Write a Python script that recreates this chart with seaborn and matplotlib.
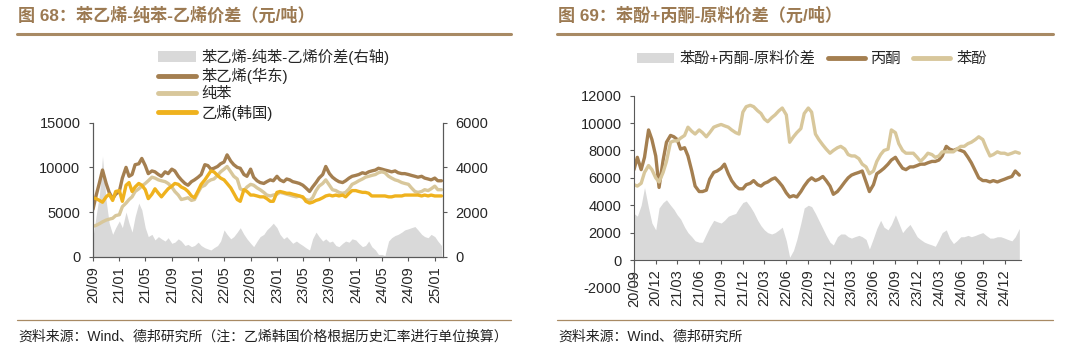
import pandas as pd
import seaborn as sns
import matplotlib.pyplot as plt
import matplotlib.dates as mdates
from matplotlib.lines import Line2D
from matplotlib.patches import Patch

sns.set_style('ticks')
plt.rcParams['font.family'] = ['Liberation Sans', 'Noto Sans CJK SC']
plt.rcParams['axes.unicode_minus'] = False

# semi-monthly sample dates, 2020-09 .. 2025-02
dates = pd.date_range('2020-09-01', periods=107, freq='SMS')

# Fig 68: styrene / benzene / ethylene (yuan/t), spread on right axis
styrene = [5300, 6800, 8300, 9700, 8200, 7200, 6500, 7000, 7300, 8800,
           10000, 9000, 9200, 10300, 10400, 11000, 10200, 9300, 9600, 9500,
           9200, 9000, 9500, 9300, 9800, 9600, 9000, 8600, 8200, 8000,
           8400, 8600, 8900, 9200, 10300, 10200, 9800, 9900, 10100, 10400,
           10600, 11400, 10700, 10300, 10000, 9900, 9200, 9000, 9800, 8900,
           8500, 8300, 8200, 8400, 8600, 8500, 9000, 8600, 8400, 8700,
           8600, 8400, 8300, 8200, 8000, 7700, 7300, 7800, 8300, 8800,
           9200, 10100, 9300, 8900, 8600, 8400, 8300, 8500, 8800, 9000,
           9100, 9200, 9400, 9300, 9500, 9600, 9700, 9900, 9800, 9700,
           9600, 9500, 9600, 9400, 9300, 9300, 9200, 9100, 9000, 8900,
           9000, 8800, 8700, 8600, 8800, 8500, 8500]
benzene = [3400, 3500, 3700, 3900, 4100, 4200, 4300, 4600, 4700, 5600,
           6000, 6400, 6700, 7300, 7600, 7900, 8200, 8500, 8900, 8800,
           8600, 8500, 8400, 8200, 7800, 7300, 6900, 6400, 6500, 6600,
           6300, 6400, 7200, 7800, 8000, 8400, 8600, 8700, 9100, 9500,
           9800, 10100, 9500, 9000, 8700, 7600, 7400, 7800, 8100, 8000,
           7700, 7500, 7200, 6900, 6800, 6900, 7000, 7200, 7100, 7000,
           6900, 6800, 6700, 6800, 6600, 6400, 6300, 6600, 7400, 7900,
           8200, 8600, 8000, 7500, 7400, 7200, 7100, 7200, 7600, 8100,
           8300, 8500, 8700, 8900, 9000, 9100, 9200, 9400, 9500, 9400,
           9000, 8800, 8600, 8500, 8300, 8200, 8100, 7700, 7300, 7200,
           7300, 7500, 7400, 7600, 7900, 7500, 7500]
ethylene_kr = [6600, 6500, 6300, 6100, 6700, 7000, 6300, 7300, 7400, 6200,
               8000, 8300, 7300, 7800, 8200, 8000, 7500, 6500, 7000, 7600,
               7100, 6700, 7200, 7600, 7900, 8200, 8100, 7800, 7600, 7300,
               6800, 6600, 7400, 8100, 8600, 9100, 9600, 9500, 9100, 8800,
               8600, 8200, 7700, 7100, 6400, 6200, 7500, 7300, 6900, 6900,
               6800, 6700, 6700, 6500, 6200, 6200, 7200, 7300, 7200, 7100,
               7100, 7000, 6900, 6800, 6700, 6200, 6000, 6100, 6300, 6400,
               6600, 6800, 6900, 6800, 6900, 6800, 6900, 6700, 7100, 7400,
               7400, 7300, 7200, 7200, 7100, 6800, 6800, 6800, 6800, 6800,
               6700, 6700, 6800, 6800, 6800, 6900, 6900, 6900, 6900, 6900,
               6800, 6900, 6800, 6900, 6800, 6800, 6800]
spread_68 = [900, 1800, 2800, 4500, 2500, 1500, 1000, 1300, 1600, 1300,
             2000, 1500, 1100, 1800, 2400, 2100, 1300, 900, 1000, 750,
             900, 800, 700, 850, 600, 650, 800, 700, 500, 550,
             450, 500, 650, 500, 400, 350, 300, 400, 500, 700,
             1200, 1000, 800, 900, 1100, 1300, 1000, 800, 600, 450,
             700, 900, 1000, 1200, 1350, 1500, 1300, 1000, 800, 900,
             750, 600, 700, 600, 500, 400, 300, 800, 1100, 900,
             700, 800, 650, 700, 500, 450, 600, 700, 650, 800,
             750, 600, 450, 500, 700, 450, 300, 100, 100, 50,
             700, 850, 950, 1000, 1100, 1200, 1250, 1300, 1350, 1200,
             1000, 900, 850, 1000, 900, 700, 500]

# Fig 69: phenol / acetone (yuan/t) and phenol+acetone - feedstock spread
acetone = [6600, 7500, 6600, 7500, 9500, 8800, 7600, 5300, 7300, 8600,
           9100, 9000, 8800, 8100, 8200, 7600, 6500, 5400, 5000, 5000,
           5100, 5900, 6400, 6500, 6700, 7000, 6300, 5800, 5400, 5200,
           5200, 5500, 5600, 5800, 5500, 5400, 5600, 5700, 5900, 6000,
           5700, 5400, 4900, 4600, 4700, 4600, 5000, 5400, 5800, 6000,
           5800, 5900, 6100, 5800, 5400, 4800, 5000, 5300, 5700, 6000,
           6200, 6300, 6400, 6500, 5700, 5000, 5500, 6300, 6500, 6700,
           7000, 7300, 7500, 7100, 6700, 6600, 6800, 6800, 6900, 7000,
           7000, 7100, 7200, 7200, 7300, 7600, 8300, 8100, 8000, 8100,
           8000, 7900, 7500, 7100, 6500, 6000, 5800, 5800, 5700, 5800,
           5700, 5800, 5900, 6000, 6100, 6500, 6200]
phenol = [5500, 5400, 5600, 6400, 6900, 6600, 6000, 5700, 6400, 7200,
          8600, 8700, 8700, 8900, 9100, 9700, 9400, 9200, 9500, 9300,
          9000, 9300, 9700, 9800, 9900, 9800, 9700, 9500, 9300, 9200,
          10800, 11200, 11300, 11200, 10900, 10700, 10300, 10100, 10400, 10600,
          10900, 11100, 10600, 8600, 9000, 9300, 9600, 10700, 11100, 10800,
          9200, 8800, 8400, 8100, 7800, 8000, 8200, 8300, 8100, 7700,
          7600, 7600, 7400, 7000, 6800, 6300, 6500, 7200, 7700, 8000,
          8100, 9500, 9300, 8500, 8000, 7800, 7800, 7800, 7500, 7200,
          7500, 7800, 7700, 7500, 7600, 7900, 7900, 7900, 7900, 8100,
          8300, 8300, 8500, 8600, 8800, 9000, 8800, 8200, 7600, 7700,
          7900, 7800, 7800, 7700, 7800, 7900, 7800]
spread_69 = [3400, 3200, 4000, 5300, 3800, 2700, 2200, 3800, 4200, 4400,
             4000, 3700, 3300, 3000, 2400, 2000, 1700, 1400, 1300, 1300,
             1900, 2400, 2900, 2800, 2700, 2900, 3200, 3300, 3400, 3800,
             4200, 4300, 3900, 3500, 2900, 2500, 2200, 2000, 1900, 2000,
             2200, 2400, 1400, 200, 700, 1500, 2700, 3800, 4000, 3900,
             3400, 2900, 2300, 1800, 1300, 1100, 1700, 1900, 1900, 1700,
             1600, 1700, 1800, 1700, 1500, 800, 1600, 2300, 2900, 2400,
             2200, 2600, 3300, 2700, 2000, 2300, 2600, 2200, 1700, 1500,
             1300, 1200, 1100, 1000, 1500, 2000, 2200, 1600, 1200, 1400,
             1700, 1700, 1800, 1700, 1800, 1900, 2000, 1800, 1600, 1600,
             1700, 1700, 1600, 1500, 1400, 1700, 2300]

labels_68 = ['苯乙烯-纯苯-乙烯价差(右轴)', '苯乙烯(华东)', '纯苯', '乙烯(韩国)']
labels_69 = ['苯酚+丙酮-原料价差', '丙酮', '苯酚']

BROWN = '#a47f50'
TAN = '#d8c79b'
GOLD = '#efb21e'
GREY = '#d9d9d9'
SPINE = '#595959'
TITLE_C = '#9c7a52'
RULE_C = '#a88a64'

df68 = pd.DataFrame({'date': dates, 'styrene': styrene, 'benzene': benzene,
                     'ethylene': ethylene_kr, 'spread': spread_68})
df69 = pd.DataFrame({'date': dates, 'acetone': acetone, 'phenol': phenol,
                     'spread': spread_69})

W, H = 1080, 356
fig = plt.figure(figsize=(10.8, 3.56), dpi=100)

def fx(px):
    return px / W

def fy(py):
    return 1 - py / H

xmin, xmax = pd.Timestamp('2020-09-01'), pd.Timestamp('2025-02-08')

# ---------------- left chart ----------------
ax = fig.add_axes([fx(93), fy(256.7), fx(443) - fx(93), fy(122.7) - fy(256.7)])
ax2 = ax.twinx()
ax2.fill_between(df68['date'], df68['spread'], color=GREY, linewidth=0)
ax2.set_ylim(0, 6000)
ax2.set_yticks([0, 2000, 4000, 6000])

sns.lineplot(data=df68, x='date', y='styrene', ax=ax, color=BROWN, linewidth=2.4)
sns.lineplot(data=df68, x='date', y='benzene', ax=ax, color=TAN, linewidth=2.4)
sns.lineplot(data=df68, x='date', y='ethylene', ax=ax, color=GOLD, linewidth=2.4)
ax.set_zorder(ax2.get_zorder() + 1)
ax.patch.set_visible(False)
ax.set_ylim(0, 15000)
ax.set_yticks([0, 5000, 10000, 15000])
ax.set_xlim(xmin, xmax)
ax.set_xticks(pd.date_range('2020-09-01', '2025-01-01', freq='4MS'))
ax.xaxis.set_major_formatter(mdates.DateFormatter('%y/%m'))
ax.set_xlabel('')
ax.set_ylabel('')
ax2.set_ylabel('')
for a in (ax, ax2):
    a.spines['top'].set_visible(False)
    for s in ('left', 'right', 'bottom'):
        a.spines[s].set_color(SPINE)
        a.spines[s].set_linewidth(0.8)
ax.tick_params(axis='y', labelsize=10.5, length=3, pad=6, color=SPINE)
ax2.tick_params(axis='y', labelsize=10.5, length=3, pad=6, color=SPINE)
ax.tick_params(axis='x', labelsize=10.5, length=3, pad=4, color=SPINE, rotation=90)

h68 = [Patch(facecolor=GREY, edgecolor='none'),
       Line2D([], [], color=BROWN, lw=3.5),
       Line2D([], [], color=TAN, lw=3.5),
       Line2D([], [], color=GOLD, lw=3.5)]
fig.legend(h68, labels_68, loc='upper left', bbox_to_anchor=(fx(158), fy(49)),
           frameon=False, fontsize=11, handlelength=2.5, handletextpad=0.35,
           labelspacing=0.2, borderpad=0, borderaxespad=0)

# ---------------- right chart ----------------
bx = fig.add_axes([fx(634), fy(287.4), fx(1021) - fx(634), fy(95.7) - fy(287.4)])
bx.fill_between(df69['date'], df69['spread'], color=GREY, linewidth=0)
sns.lineplot(data=df69, x='date', y='acetone', ax=bx, color=BROWN, linewidth=2.4)
sns.lineplot(data=df69, x='date', y='phenol', ax=bx, color=TAN, linewidth=2.4)
bx.set_ylim(-2000, 12000)
bx.set_yticks(range(-2000, 12001, 2000))
bx.set_xlim(xmin, xmax)
bx.set_xticks(pd.date_range('2020-09-01', '2024-12-01', freq='3MS'))
bx.xaxis.set_major_formatter(mdates.DateFormatter('%y/%m'))
bx.set_xlabel('')
bx.set_ylabel('')
bx.spines['top'].set_visible(False)
bx.spines['right'].set_visible(False)
bx.spines['bottom'].set_position(('data', 0))
for s in ('left', 'bottom'):
    bx.spines[s].set_color(SPINE)
    bx.spines[s].set_linewidth(0.8)
bx.tick_params(axis='y', labelsize=10.5, length=3, pad=6, color=SPINE)
bx.tick_params(axis='x', labelsize=10.5, length=3, pad=4, color=SPINE, rotation=90)

h69 = [Patch(facecolor=GREY, edgecolor='none'),
       Line2D([], [], color=BROWN, lw=3.5),
       Line2D([], [], color=TAN, lw=3.5)]
fig.legend(h69, labels_69, loc='upper left', bbox_to_anchor=(fx(637), fy(52)),
           frameon=False, fontsize=11, ncol=3, handlelength=2.4,
           handletextpad=0.4, columnspacing=0.8, borderpad=0, borderaxespad=0)

# ---------------- titles, rules, sources ----------------
fig.text(fx(18), fy(15), '图 68：苯乙烯-纯苯-乙烯价差（元/吨）', fontsize=12.3,
         fontweight='bold', color=TITLE_C, va='center')
fig.text(fx(558), fy(15), '图 69：苯酚+丙酮-原料价差（元/吨）', fontsize=12.3,
         fontweight='bold', color=TITLE_C, va='center')
for x0, x1 in ((17, 511), (557, 1053)):
    fig.add_artist(Line2D([fx(x0), fx(x1)], [fy(33.5)] * 2, color=RULE_C,
                          lw=2.2, transform=fig.transFigure))
    fig.add_artist(Line2D([fx(x0), fx(x1)], [fy(319.5)] * 2, color=RULE_C,
                          lw=0.9, transform=fig.transFigure))
fig.text(fx(18), fy(337), '资料来源：Wind、德邦研究所（注：乙烯韩国价格根据历史汇率进行单位换算）',
         fontsize=10, color='#222222', va='center')
fig.text(fx(558), fy(337), '资料来源：Wind、德邦研究所', fontsize=10,
         color='#222222', va='center')

fig.savefig('out.png', dpi=100)
